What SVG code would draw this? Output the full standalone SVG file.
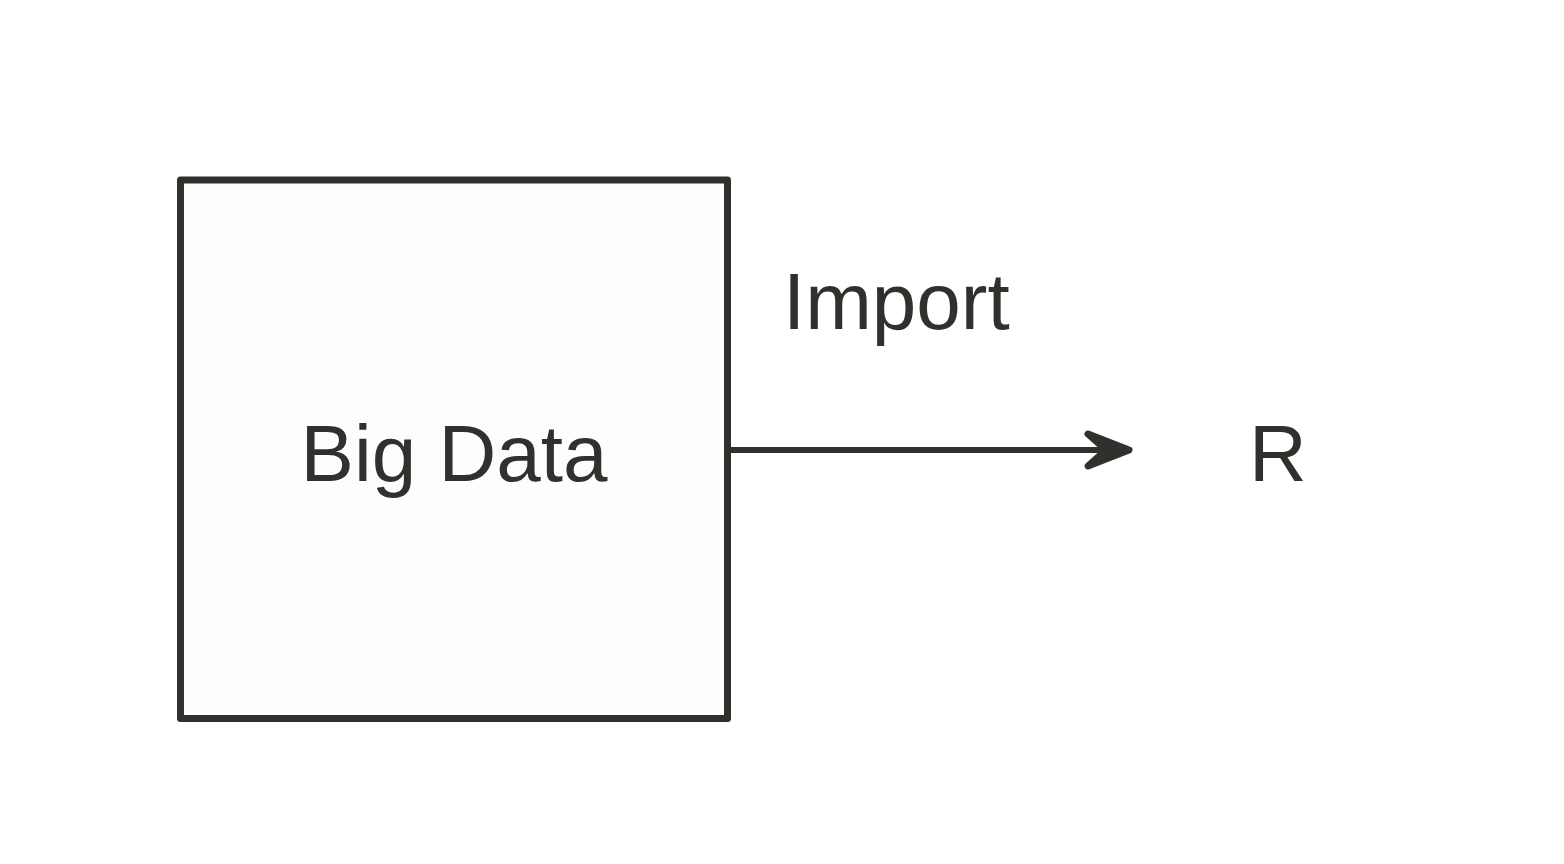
<svg xmlns="http://www.w3.org/2000/svg" width="1564" height="864" viewBox="0 0 1564 864">
<style>
.s{stroke:#30302c;stroke-width:7;stroke-linejoin:round;stroke-linecap:round;fill:none}
.t{font-family:"Liberation Sans",Arial,sans-serif;font-size:80px;fill:#30302c}
</style>
<rect width="1564" height="864" fill="#ffffff"/>
<g id="bigdata">
<rect x="180.5" y="180" width="547" height="538.5" class="s" style="fill:#fdfdfd"/>
<text class="t" x="454" y="481" text-anchor="middle">Big Data</text>
</g>
<g id="r">
<text class="t" x="1278" y="481" text-anchor="middle">R</text>
</g>
<g id="connectors">
<line x1="731" y1="450" x2="1125" y2="450" class="s" style="stroke-width:6"/>
<polygon points="1088,434 1129,450 1088,466 1106,450" class="s" style="fill:#30302c;stroke-width:7"/>
<text class="t" x="783" y="329">Import</text>
</g>
</svg>
